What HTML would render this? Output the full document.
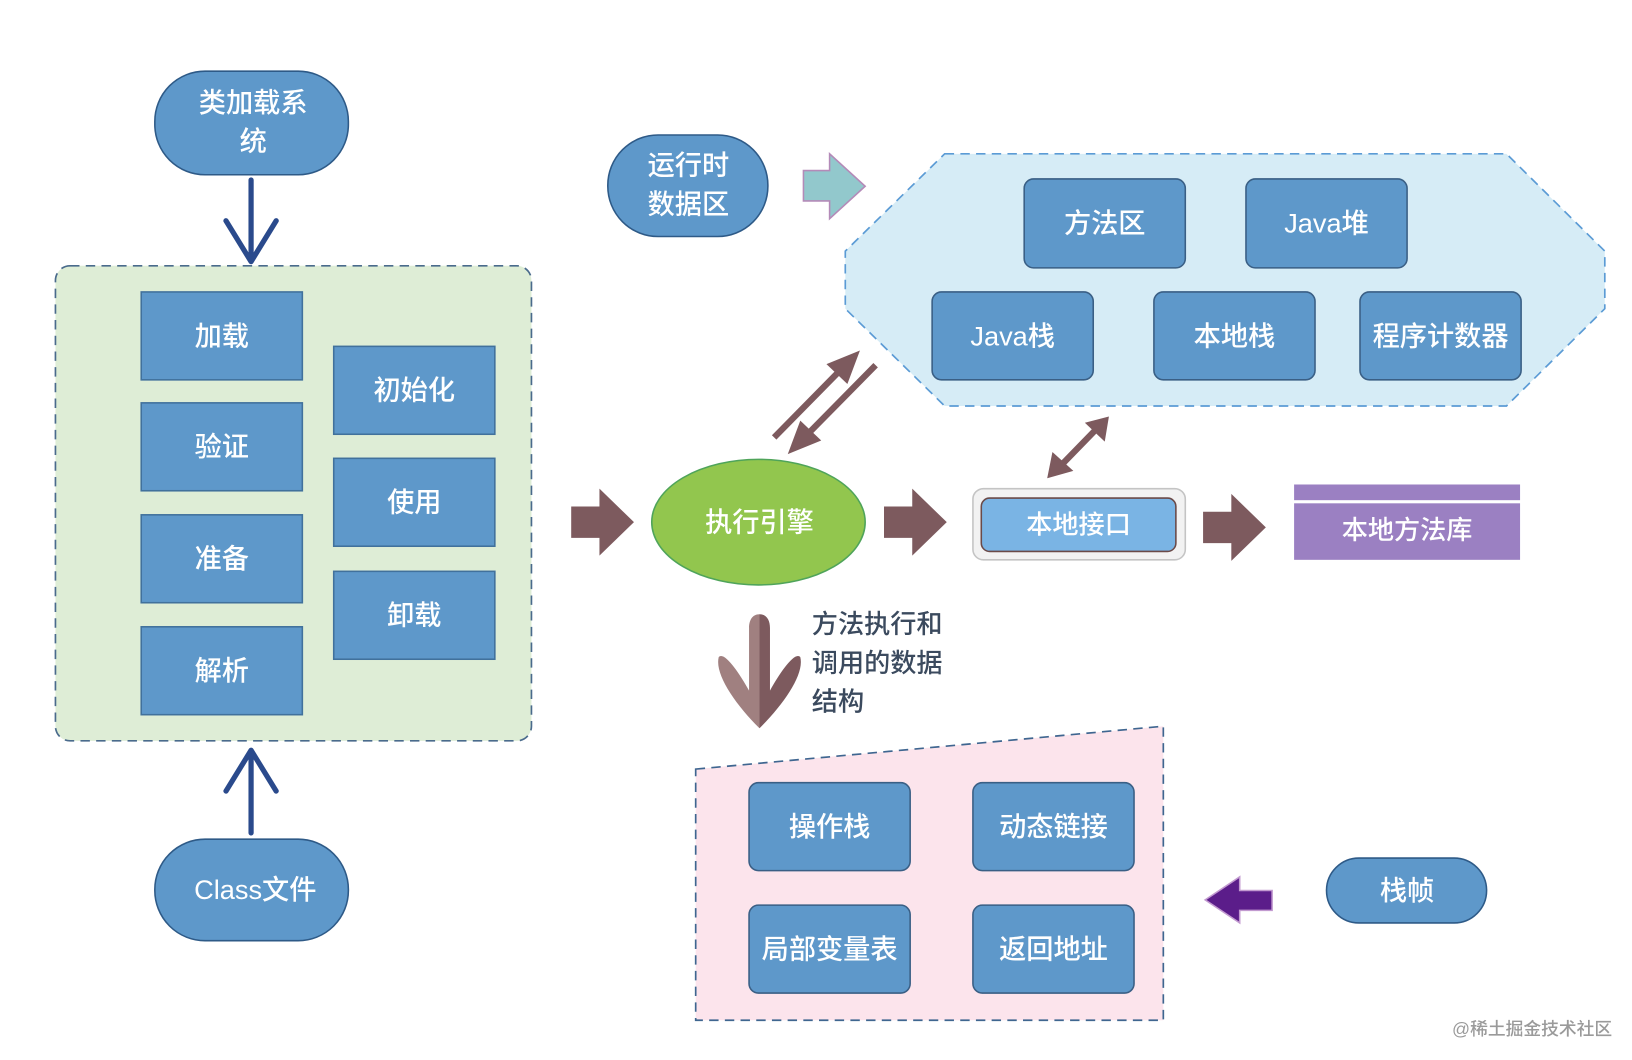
<!DOCTYPE html>
<html><head><meta charset="utf-8"><style>
html,body{margin:0;padding:0;background:#fff;}
svg{display:block;}
text{font-family:"Liberation Sans","Noto Sans CJK SC",sans-serif;font-weight:500;}
</style></head><body>
<svg width="1632" height="1060" viewBox="0 0 1560 1013" preserveAspectRatio="none" xmlns="http://www.w3.org/2000/svg">
<rect width="1560" height="1013" fill="#fff"/>
<!-- left group -->
<rect x="53" y="254" width="455" height="454" rx="14" fill="#deedd6" stroke="#4a6b8c" stroke-width="1.6" stroke-dasharray="9,6"/>
<g fill="#5e98ca" stroke="#41719c" stroke-width="1.5">
<rect x="135" y="279" width="154" height="84"/>
<rect x="135" y="385" width="154" height="84"/>
<rect x="135" y="492" width="154" height="84"/>
<rect x="135" y="599" width="154" height="84"/>
<rect x="319" y="331" width="154" height="84"/>
<rect x="319" y="438" width="154" height="84"/>
<rect x="319" y="546" width="154" height="84"/>
</g>
<g fill="#fff" font-size="26" text-anchor="middle">
<text x="212" y="330">加载</text>
<text x="212" y="436">验证</text>
<text x="212" y="543">准备</text>
<text x="212" y="650">解析</text>
<text x="396" y="382">初始化</text>
<text x="396" y="489">使用</text>
<text x="396" y="597">卸载</text>
</g>
<!-- top/bottom stadiums -->
<g fill="#5e98ca" stroke="#2e5a87" stroke-width="1.5">
<rect x="148" y="68" width="185" height="99" rx="48"/>
<rect x="148" y="802" width="185" height="97" rx="48"/>
<rect x="581" y="129" width="153" height="97" rx="48"/>
<rect x="1268" y="820" width="153" height="62" rx="31"/>
</g>
<g fill="#fff" font-size="26" text-anchor="middle">
<text x="242" y="107">类加载系</text>
<text x="242" y="144">统</text>
<text x="244" y="859">Class文件</text>
<text x="658" y="167">运行时</text>
<text x="658" y="204">数据区</text>
<text x="1345" y="860">栈帧</text>
</g>
<g stroke="#2a4a8c" stroke-width="5" fill="none" stroke-linecap="round" stroke-linejoin="round">
<path d="M240 172 L240 248 M216 211 L240 250 L264 211"/>
<path d="M240 796 L240 719 M216 756 L240 717 L264 756"/>
</g>
<!-- teal arrow -->
<polygon points="768,163 793,163 793,147 827,178 793,209 793,192 768,192" fill="#92c8cc" stroke="#b48ab8" stroke-width="1.5"/>
<!-- hexagon -->
<polygon points="903,147 1440,147 1534,240 1534,295 1440,388 903,388 808,295 808,240" fill="#d6ecf6" stroke="#5b9bd5" stroke-width="1.6" stroke-dasharray="9,6"/>
<g fill="#5e98ca" stroke="#3a5f85" stroke-width="1.5">
<rect x="979" y="171" width="154" height="85" rx="9"/>
<rect x="1191" y="171" width="154" height="85" rx="9"/>
<rect x="891" y="279" width="154" height="84" rx="9"/>
<rect x="1103" y="279" width="154" height="84" rx="9"/>
<rect x="1300" y="279" width="154" height="84" rx="9"/>
</g>
<g fill="#fff" font-size="26" text-anchor="middle">
<text x="1056" y="222">方法区</text>
<text x="1268" y="222">Java堆</text>
<text x="968" y="330">Java栈</text>
<text x="1180" y="330">本地栈</text>
<text x="1377" y="330">程序计数器</text>
</g>
<!-- diagonal arrows -->
<g stroke="#7d5a5e" stroke-width="6" fill="#7d5a5e">
<line x1="740" y1="418" x2="805" y2="352"/>
<line x1="837" y1="349" x2="770" y2="417"/>
<line x1="1015" y1="444" x2="1048" y2="410"/>
</g>
<g fill="#7d5a5e">
<polygon points="822,335 790,348 810,367"/>
<polygon points="753,434 765,402 785,421"/>
<polygon points="1060,398 1037,404 1056,422"/>
<polygon points="1001,457 1006,432 1026,450"/>
</g>
<!-- block arrows -->
<g fill="#7d5a5e">
<polygon points="546,484 573,484 573,467 606,499 573,531 573,514 546,514"/>
<polygon points="845,484 872,484 872,467 905,499 872,531 872,514 845,514"/>
<polygon points="1150,489 1177,489 1177,472 1210,504 1177,536 1177,519 1150,519"/>
</g>
<!-- engine -->
<ellipse cx="725" cy="499" rx="102" ry="60" fill="#92c64e" stroke="#4fa45a" stroke-width="1.5"/>
<text x="726" y="508" fill="#fff" font-size="26" text-anchor="middle">执行引擎</text>
<!-- native interface -->
<rect x="930" y="467" width="203" height="68" rx="10" fill="#f2f2f2" stroke="#c4c4c4" stroke-width="1.5"/>
<rect x="938" y="476" width="186" height="51" rx="8" fill="#7ab4e4" stroke="#6b4a48" stroke-width="1.5"/>
<text x="1031" y="510" fill="#fff" font-size="25" text-anchor="middle">本地接口</text>
<!-- native lib -->
<rect x="1237" y="463" width="216" height="15" fill="#9b80c2"/>
<rect x="1237" y="481" width="216" height="54" fill="#9b80c2"/>
<text x="1345" y="515" fill="#fff" font-size="25" text-anchor="middle">本地方法库</text>
<!-- big down arrow -->
<path d="M726 587 C719 587 716 593 716 600 L716 660 C706 642 692 622 687 628 C683 644 702 672 726 696 Z" fill="#a08080"/>
<path d="M726 587 C733 587 736 593 736 600 L736 660 C746 642 760 622 765 628 C769 644 750 672 726 696 Z" fill="#7d5a5e"/>
<g fill="#3b4a5e" font-size="25">
<text x="776" y="605">方法执行和</text>
<text x="776" y="642">调用的数据</text>
<text x="776" y="679">结构</text>
</g>
<!-- pink trapezoid -->
<polygon points="665,735 1112,694 1112,975 665,975" fill="#fce4ec" stroke="#3f6690" stroke-width="1.6" stroke-dasharray="9,6"/>
<g fill="#5e98ca" stroke="#3a5f85" stroke-width="1.5">
<rect x="716" y="748" width="154" height="84" rx="9"/>
<rect x="930" y="748" width="154" height="84" rx="9"/>
<rect x="716" y="865" width="154" height="84" rx="9"/>
<rect x="930" y="865" width="154" height="84" rx="9"/>
</g>
<g fill="#fff" font-size="26" text-anchor="middle">
<text x="793" y="799">操作栈</text>
<text x="1007" y="799">动态链接</text>
<text x="793" y="916">局部变量表</text>
<text x="1007" y="916">返回地址</text>
</g>
<!-- purple arrow -->
<polygon points="1152,860 1185,838 1185,851 1216,851 1216,870 1185,870 1185,882" fill="#5b1d8a" stroke="#c29ad0" stroke-width="1.5"/>
<text x="1388" y="989" fill="#9a9a9a" font-size="17" font-weight="400">@稀土掘金技术社区</text>
</svg>
</body></html>
